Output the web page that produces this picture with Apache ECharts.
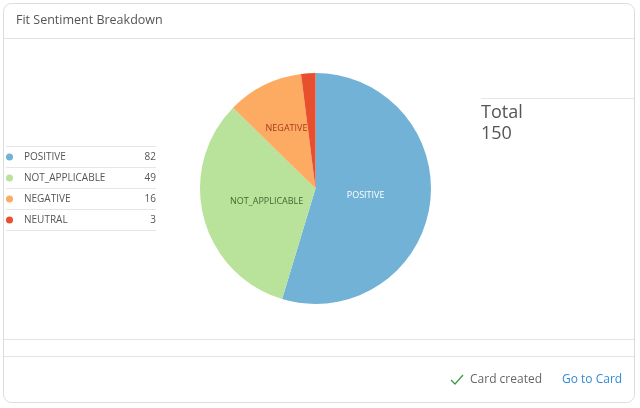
<!DOCTYPE html>
<html><head><meta charset="utf-8">
<script src="https://cdn.jsdelivr.net/npm/echarts@6/dist/echarts.min.js"></script>
<style>html,body{margin:0;padding:0;background:#fff}#c{width:640px;height:408px}</style>
</head><body><div id="c"></div>
<script>
const title = 'Fit Sentiment Breakdown';
const categories = ['POSITIVE', 'NOT_APPLICABLE', 'NEGATIVE', 'NEUTRAL'];
const values = [82, 49, 16, 3];
const colors = ['#72b2d6', '#b9e29b', '#fdab62', '#e84f2e'];
const labelColors = ['#ffffff', '#3f6a2c', '#a8391c', '#ffffff'];
const labelOffsets = [[-10, -2], [10, -2], [-2, -6], [0, 0]];
const totalLabel = 'Total';
const footerStatus = 'Card created';
const footerLink = 'Go to Card';

const FONT = '"Open Sans", "Noto Sans", sans-serif';
const total = values.reduce((a, b) => a + b, 0);
const chart = echarts.init(document.getElementById('c'), null, {renderer: 'canvas'});

const g = [];
// card
g.push({type: 'rect', shape: {x: 3.5, y: 3.5, width: 631, height: 399, r: 8}, style: {fill: '#fff', stroke: '#dcdcdc', lineWidth: 1}, z: 0});
g.push({type: 'line', shape: {x1: 4, y1: 38.5, x2: 634, y2: 38.5}, style: {stroke: '#e3e3e3', lineWidth: 1}, z: 1});
g.push({type: 'line', shape: {x1: 4, y1: 339.5, x2: 634, y2: 339.5}, style: {stroke: '#e3e3e3', lineWidth: 1}, z: 1});
g.push({type: 'line', shape: {x1: 4, y1: 356.5, x2: 634, y2: 356.5}, style: {stroke: '#e3e3e3', lineWidth: 1}, z: 1});
g.push({type: 'text', x: 16, y: 20, style: {text: title, font: '12.5px ' + FONT, fill: '#555', verticalAlign: 'middle'}, z: 2});
// legend table
const rowH = 21, top0 = 146.5;
g.push({type: 'line', shape: {x1: 6, y1: top0, x2: 156, y2: top0}, style: {stroke: '#e6e6e6', lineWidth: 1}, z: 1});
categories.forEach((c, i) => {
  const yc = top0 + rowH * i + rowH / 2;
  g.push({type: 'circle', shape: {cx: 9.5, cy: yc, r: 3.5}, style: {fill: colors[i]}, z: 2});
  g.push({type: 'text', x: 24, y: yc, style: {text: c, font: '10px ' + FONT, fill: '#555', verticalAlign: 'middle'}, z: 2});
  g.push({type: 'text', x: 156, y: yc, style: {text: String(values[i]), font: '10px ' + FONT, fill: '#555', align: 'right', verticalAlign: 'middle'}, z: 2});
  g.push({type: 'line', shape: {x1: 6, y1: top0 + rowH * (i + 1), x2: 156, y2: top0 + rowH * (i + 1)}, style: {stroke: '#e6e6e6', lineWidth: 1}, z: 1});
});
// total
g.push({type: 'line', shape: {x1: 481, y1: 98.5, x2: 634, y2: 98.5}, style: {stroke: '#e6e6e6', lineWidth: 1}, z: 1});
g.push({type: 'text', x: 481, y: 113, style: {text: totalLabel, font: '18px ' + FONT, fill: '#555', verticalAlign: 'middle'}, z: 2});
g.push({type: 'text', x: 481, y: 134, style: {text: String(total), font: '18px ' + FONT, fill: '#555', verticalAlign: 'middle'}, z: 2});
// footer
g.push({type: 'polyline', shape: {points: [[451, 380], [455, 384], [463, 375]]}, style: {stroke: '#3d9a4a', lineWidth: 1.3, fill: null}, z: 2});
g.push({type: 'text', x: 470, y: 380, style: {text: footerStatus, font: '12px ' + FONT, fill: '#666', verticalAlign: 'middle'}, z: 2});
g.push({type: 'text', x: 562, y: 380, style: {text: footerLink, font: '12px ' + FONT, fill: '#2f8ad8', verticalAlign: 'middle'}, z: 2});

chart.setOption({
  animation: false,
  graphic: g,
  series: [{
    type: 'pie',
    center: [315.5, 188.5],
    radius: [0, 115.5],
    startAngle: 90,
    clockwise: true,
    z: 3,
    itemStyle: {borderWidth: 0},
    label: {show: true, position: 'inside', fontFamily: FONT, fontSize: 9},
    labelLine: {show: false},
    emphasis: {disabled: true},
    data: categories.map((c, i) => ({
      name: c, value: values[i],
      itemStyle: {color: colors[i]},
      label: {color: labelColors[i], show: i < 3, offset: labelOffsets[i]}
    }))
  }]
});
</script></body></html>
